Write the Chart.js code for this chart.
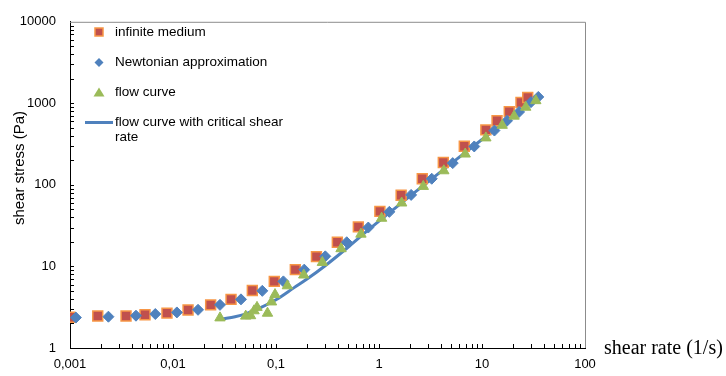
<!DOCTYPE html>
<html>
<head>
<meta charset="utf-8">
<script src="https://cdn.jsdelivr.net/npm/chart.js@4.4.1/dist/chart.umd.min.js"></script>
<style>
  html, body { margin: 0; padding: 0; background: #fff; }
</style>
</head>
<body>
<canvas id="chart" width="726" height="376"></canvas>
<script>
// shear rate (1/s) / shear stress (Pa)
const infiniteRate = [0.001, 0.00186, 0.0035, 0.00535, 0.00874, 0.014, 0.0232, 0.0366, 0.0589, 0.0962, 0.154, 0.247, 0.394, 0.63, 1.02, 1.64, 2.63, 4.21, 6.73, 10.9, 14.0, 18.4, 23.9, 27.8];
const infiniteStress = [2.38, 2.47, 2.47, 2.56, 2.68, 2.92, 3.38, 3.95, 5.07, 6.56, 9.14, 13.2, 19.8, 30.6, 47.4, 74.8, 119, 188, 298, 473, 612, 791, 1026, 1178];

const newtonRate = [0.00114, 0.00236, 0.00437, 0.00673, 0.0109, 0.0175, 0.0286, 0.0457, 0.0736, 0.118, 0.188, 0.301, 0.486, 0.787, 1.26, 2.05, 3.25, 5.2, 8.41, 13.2, 17.5, 22.9, 29.9, 35.2];
const newtonStress = [2.36, 2.42, 2.49, 2.61, 2.73, 2.94, 3.38, 3.95, 5.02, 6.56, 9.14, 13.3, 19.8, 30.0, 46.7, 75.4, 119, 185, 296, 464, 612, 785, 1035, 1199];

const flowRate = [0.0286, 0.0508, 0.0566, 0.0612, 0.0654, 0.0827, 0.0904, 0.0978, 0.129, 0.186, 0.282, 0.428, 0.668, 1.06, 1.66, 2.69, 4.26, 6.87, 10.9, 15.7, 20.5, 26.6, 33.3];
const flowStress = [2.34, 2.46, 2.49, 2.86, 3.15, 2.67, 3.67, 4.52, 5.79, 7.85, 11.2, 16.5, 24.9, 39.0, 60.0, 95.9, 149, 239, 377, 538, 697, 897, 1079];

const criticalRate = [0.03, 0.04, 0.05, 0.07, 0.1, 0.15, 0.2, 0.3, 0.5, 0.7, 1, 2, 5, 10, 20, 35];
const criticalStress = [2.28, 2.42, 2.6, 3.1, 3.9, 5.5, 7.0, 10.2, 17.2, 24.8, 36, 73, 182, 360, 705, 1190];

const xTicks = [0.001, 0.01, 0.1, 1, 10, 100];
const yTicks = [1, 10, 100, 1000, 10000];

const legendLabels = ["infinite medium", "Newtonian approximation", "flow curve", "flow curve with critical shear", "rate"];

function pairs(xs, ys) {
    return xs.map((x, i) => ({ x: x, y: ys[i] }));
}

const RED = "#C0504D", ORANGE = "#F79646", BLUE = "#4F81BD", GREEN = "#9BBB59";

// extra drawing: top/right frame, inside ticks, axis titles, legend
const extras = {
    id: "extras",
    afterDraw(chart) {
        const ctx = chart.ctx;
        const a = chart.chartArea;
        const xs = chart.scales.x, ys = chart.scales.y;
        ctx.save();

        // gray frame top + right
        ctx.strokeStyle = "#8c8c8c";
        ctx.lineWidth = 1;
        ctx.beginPath();
        ctx.moveTo(a.left, a.top + 0.5);
        ctx.lineTo(a.right + 0.5, a.top + 0.5);
        ctx.lineTo(a.right + 0.5, a.bottom);
        ctx.stroke();

        // minor + major ticks, pointing inwards
        ctx.strokeStyle = "#000";
        ctx.beginPath();
        for (let d = 0.001; d < 100; d *= 10) {
            for (let k = 1; k <= 9; k++) {
                const px = Math.round(xs.getPixelForValue(k * d)) + 0.5;
                ctx.moveTo(px, a.bottom);
                ctx.lineTo(px, a.bottom - 4);
            }
        }
        for (let d = 1; d < 10000; d *= 10) {
            for (let k = 1; k <= 9; k++) {
                const py = Math.round(ys.getPixelForValue(k * d)) + 0.5;
                ctx.moveTo(a.left, py);
                ctx.lineTo(a.left + 4, py);
            }
        }
        ctx.stroke();

        // axis titles
        ctx.fillStyle = "#000";
        ctx.font = "20px 'Liberation Serif', serif";
        ctx.textAlign = "left";
        ctx.textBaseline = "middle";
        ctx.fillText("shear rate (1/s)", 604, 349);

        ctx.save();
        ctx.translate(20, 168);
        ctx.rotate(-Math.PI / 2);
        ctx.textAlign = "center";
        ctx.font = "15px 'Liberation Sans', Arial, sans-serif";
        ctx.fillText("shear stress (Pa)", 0, 0);
        ctx.restore();

        // legend
        const mx = 99, tx = 115;
        ctx.font = "13.5px 'Liberation Sans', Arial, sans-serif";
        ctx.textAlign = "left";

        ctx.fillStyle = RED;
        ctx.strokeStyle = ORANGE;
        ctx.lineWidth = 1.5;
        ctx.beginPath();
        ctx.rect(mx - 4, 32 - 4, 8, 8);
        ctx.fill();
        ctx.stroke();

        ctx.fillStyle = BLUE;
        ctx.beginPath();
        ctx.moveTo(mx, 62.5 - 4.5);
        ctx.lineTo(mx + 4.5, 62.5);
        ctx.lineTo(mx, 62.5 + 4.5);
        ctx.lineTo(mx - 4.5, 62.5);
        ctx.closePath();
        ctx.fill();

        ctx.fillStyle = GREEN;
        ctx.beginPath();
        ctx.moveTo(mx, 92.5 - 5);
        ctx.lineTo(mx + 5.5, 92.5 + 4);
        ctx.lineTo(mx - 5.5, 92.5 + 4);
        ctx.closePath();
        ctx.fill();

        ctx.strokeStyle = BLUE;
        ctx.lineWidth = 3;
        ctx.beginPath();
        ctx.moveTo(85, 122.5);
        ctx.lineTo(113, 122.5);
        ctx.stroke();

        ctx.fillStyle = "#000";
        ctx.fillText(legendLabels[0], tx, 32);
        ctx.fillText(legendLabels[1], tx, 62.5);
        ctx.fillText(legendLabels[2], tx, 92.5);
        ctx.fillText(legendLabels[3], tx, 122.5);
        ctx.fillText(legendLabels[4], tx, 137.5);

        ctx.restore();
    }
};

const tickFont = { family: "'Liberation Sans', Arial, sans-serif", size: 13 };

new Chart(document.getElementById("chart"), {
    type: "scatter",
    data: {
        datasets: [
            {
                label: legendLabels[0],
                data: pairs(infiniteRate, infiniteStress),
                pointStyle: "rect",
                pointRadius: 7,
                backgroundColor: RED,
                borderColor: ORANGE,
                borderWidth: 1.5,
                order: 2
            },
            {
                label: legendLabels[1],
                data: pairs(newtonRate, newtonStress),
                pointStyle: "rectRot",
                pointRadius: 5.5,
                backgroundColor: BLUE,
                borderColor: BLUE,
                borderWidth: 1,
                order: 1
            },
            {
                label: legendLabels[2],
                data: pairs(flowRate, flowStress),
                pointStyle: "triangle",
                pointRadius: 6,
                backgroundColor: GREEN,
                borderColor: GREEN,
                borderWidth: 1,
                order: 0
            },
            {
                label: legendLabels[3] + " " + legendLabels[4],
                data: pairs(criticalRate, criticalStress),
                showLine: true,
                pointRadius: 0,
                borderColor: BLUE,
                borderWidth: 3,
                cubicInterpolationMode: "monotone",
                order: 3
            }
        ]
    },
    options: {
        responsive: false,
        animation: false,
        layout: { padding: { top: 15, right: 141, left: 0, bottom: 0 } },
        plugins: {
            legend: { display: false },
            tooltip: { enabled: false }
        },
        scales: {
            x: {
                type: "logarithmic",
                position: "bottom",
                min: 0.001,
                max: 100,
                grid: { display: false, tickLength: 0 },
                border: { display: true, color: "#000", width: 1 },
                ticks: {
                    font: tickFont,
                    color: "#000",
                    padding: 9,
                    autoSkip: false,
                    maxRotation: 0,
                    callback: (v) => String(v).replace(".", ",")
                },
                afterBuildTicks: (s) => { s.ticks = xTicks.map((v) => ({ value: v })); },
                afterFit: (s) => { s.height = 28; }
            },
            y: {
                type: "logarithmic",
                position: "left",
                min: 1,
                max: 10000,
                grid: { display: false, tickLength: 0 },
                border: { display: true, color: "#000", width: 1 },
                ticks: {
                    font: tickFont,
                    color: "#000",
                    padding: 14,
                    autoSkip: false,
                    callback: (v) => String(v)
                },
                afterBuildTicks: (s) => { s.ticks = yTicks.map((v) => ({ value: v })); },
                afterFit: (s) => { s.width = 70; }
            }
        }
    },
    plugins: [extras]
});
</script>
</body>
</html>
